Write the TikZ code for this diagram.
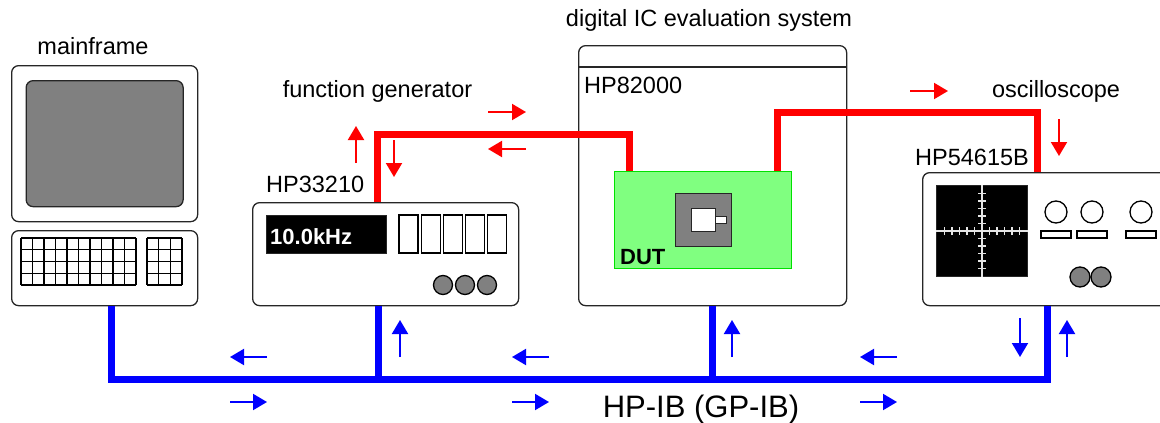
\documentclass[tikz,border=0pt]{standalone}
\usepackage{fontspec}
\setmainfont{Liberation Sans}
\usetikzlibrary{positioning,arrows.meta}

\definecolor{scrgray}{RGB}{128,128,128}
\definecolor{dutfill}{RGB}{128,255,128}
\definecolor{dutedge}{RGB}{0,225,0}

\begin{document}
\begin{tikzpicture}[x=1pt,y=-1pt,
unit/.style={draw=black!85,line width=1.3pt,rounded corners=7pt,fill=white,inner sep=0pt,anchor=north west},
plain/.style={draw=black!85,line width=1.3pt,inner sep=0pt,anchor=north west},
lbl/.style={inner sep=0pt,font=\fontsize{23.5}{28}\selectfont},
big/.style={inner sep=0pt,font=\fontsize{31}{36}\selectfont},
bold/.style={inner sep=0pt,font=\fontsize{22}{26}\selectfont\bfseries},
rf/.style={red,line width=7pt},
bus/.style={blue,line width=7pt},
sig/.style={-{Triangle[length=14pt,width=16pt]},line width=2pt}]
\useasboundingbox (0,0) rectangle (1160,423);

% mainframe
\node[unit,minimum width=186,minimum height=156] (monitor) at (11,65) {};
\node[unit,fill=scrgray,minimum width=157,minimum height=126,anchor=center] (screen) at (monitor.center) {};
\node[unit,minimum width=186,minimum height=75] (keyboard) at (11,230) {};
\foreach \i in {0,...,10} \draw[line width=1.2pt] (21+\i*11.5,238) -- ++(0,47);
\foreach \i in {0,...,3} \draw[line width=1.2pt] (147+\i*11.67,238) -- ++(0,47);
\foreach \j in {0,...,4} {
  \draw[line width=1.2pt] (21,238+\j*11.75) -- (136,238+\j*11.75);
  \draw[line width=1.2pt] (147,238+\j*11.75) -- (182,238+\j*11.75);
}
\node[lbl,anchor=base] (mflabel) at (93,54) {mainframe};

% function generator
\node[unit,minimum width=266,minimum height=103] (fgen) at (252,202) {};
\node[plain,fill=black,minimum width=120,minimum height=38] (fdisp) at (266,215) {};
\node[bold,text=white,anchor=base west] (freq) at (270,244) {10.0kHz};
\foreach \i in {0,...,4} \draw[line width=1.3pt,fill=white] (399+\i*22.2,215) rectangle ++(19,38);
\foreach \x in {443,465,487} \draw[line width=1.3pt,fill=scrgray] (\x,285) circle (9.5pt);
\node[lbl,anchor=base west] (fgname) at (266,192) {HP33210};
\node[lbl,anchor=base] (fglabel) at (377.5,97) {function generator};

% evaluation system
\node[unit,minimum width=268,minimum height=260] (hp) at (578,45) {};
\draw[line width=1.3pt,black!85] (hp.north west |- 0,67) -- (hp.north east |- 0,67);
\node[lbl,anchor=base west] (hpname) at (584,93) {HP82000};
\node[lbl,anchor=base] (hplabel) at (709,27) {digital IC evaluation system};
\node[plain,draw=dutedge,fill=dutfill,minimum width=177,minimum height=97] (dut) at (614,171) {};
\node[plain,fill=scrgray,minimum width=56,minimum height=53] (chip) at (675,193) {};
\node[plain,minimum width=24,minimum height=23,fill=white] (die) at (691,208) {};
\node[plain,minimum width=11,minimum height=7,fill=white] (pin) at (715,216) {};
\node[bold,anchor=base west] (dutlabel) at (620,264) {DUT};

% oscilloscope
\node[unit,minimum width=253,minimum height=133] (scope) at (922,172) {};
\node[plain,fill=black,minimum width=91,minimum height=91] (crt) at (936,185) {};
\draw[white!90!black,line width=1.5pt] (crt.north) -- (crt.south) (crt.west) -- (crt.east);
\foreach \k in {-5,...,-1,1,2,3,4,5} {
  \draw[white!90!black,line width=1.5pt] ([shift={(-4pt,\k*7.5pt)}]crt.center) -- ++(8pt,0);
  \draw[white!90!black,line width=1.5pt] ([shift={(\k*7.5pt,-4pt)}]crt.center) -- ++(0,8pt);
}
\foreach \x in {1056,1092,1141} {
  \draw[line width=1.3pt,fill=white] (\x,212) circle (11pt);
  \draw[line width=1.3pt,fill=white] (\x-15,231) rectangle ++(30,7);
}
\foreach \x in {1080,1101} \draw[line width=1.3pt,fill=scrgray] (\x,277) circle (10pt);
\node[lbl,anchor=base west] (scname) at (915,165) {HP54615B};
\node[lbl,anchor=base] (sclabel) at (1056,97) {oscilloscope};

% signal cables
\draw[rf] ([xshift=125pt]fgen.north west) |- ([xshift=15pt,yshift=37pt]dut.north west) -- ([xshift=15pt]dut.north west);
\draw[rf] ([xshift=163pt]dut.north west) |- ([xshift=115pt,yshift=60pt]scope.north west) -- ([xshift=115pt]scope.north west);
\draw[sig,red] (356,163) -- (356,126);
\draw[sig,red] (394,140) -- (394,177);
\draw[sig,red] (488,112) -- (526,112);
\draw[sig,red] (526,149) -- (488,149);
\draw[sig,red] (910,91) -- (948,91);
\draw[sig,red] (1059,119) -- (1059,156);

% HP-IB bus
\coordinate (busy) at (0,379);
\draw[bus] ([xshift=7pt]keyboard.south) |- ([xshift=125pt]scope.south west |- busy) -- ([xshift=125pt]scope.south west);
\draw[bus] ([xshift=-7pt]fgen.south) -- ([xshift=-7pt]fgen.south |- busy);
\draw[bus] (hp.south) -- (hp.south |- busy);
\foreach \x in {230,512,860} {
  \draw[sig,blue] (\x+37,357) -- (\x,357);
  \draw[sig,blue] (\x,402) -- (\x+37,402);
}
\foreach \x in {400,732,1067} \draw[sig,blue] (\x,357) -- (\x,320);
\draw[sig,blue] (1020,318) -- (1020,357);
\node[big,anchor=base] (buslabel) at (701,417) {HP-IB (GP-IB)};
\end{tikzpicture}
\end{document}
